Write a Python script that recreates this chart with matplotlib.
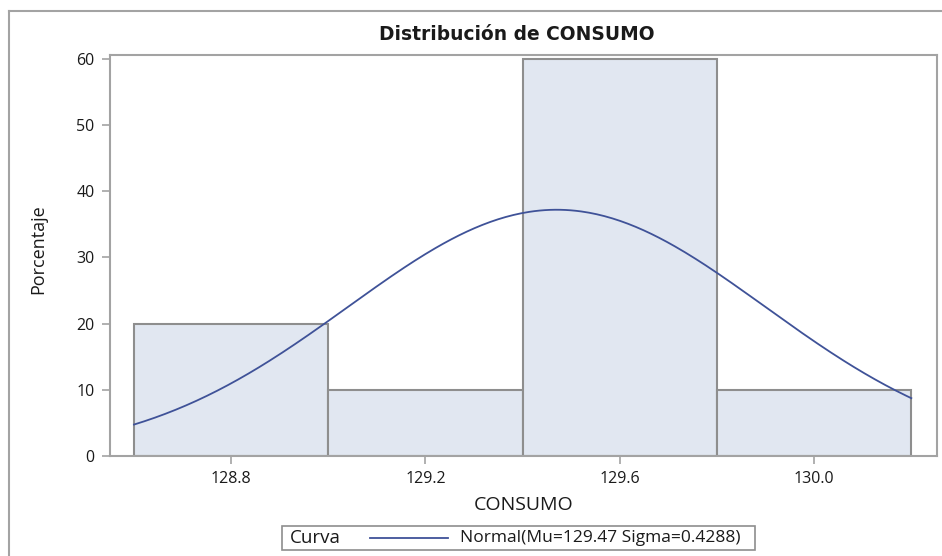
import matplotlib
matplotlib.use("Agg")
import matplotlib.pyplot as plt
from matplotlib.patches import Rectangle
from matplotlib.lines import Line2D
import numpy as np

# histogram bins (CONSUMO) and percentages
bin_edges = [128.6, 129.0, 129.4, 129.8, 130.2]
percent = [20, 10, 60, 10]
x_ticks = [128.8, 129.2, 129.6, 130.0]
y_ticks = [0, 10, 20, 30, 40, 50, 60]

# fitted normal curve parameters
mu = 129.47
sigma = 0.4288

title = "Distribución de CONSUMO"
xlabel = "CONSUMO"
ylabel = "Porcentaje"
legend_title = "Curva"
legend_label = "Normal(Mu=129.47 Sigma=0.4288)"

bar_fill = "#E1E7F1"
bar_edge = "#8E8E8E"
curve_col = "#3F5298"
frame_col = "#A3A3A3"
text_col = "#1A1A1A"

main_font = ["Open Sans", "DejaVu Sans"]
title_font = ["DejaVu Sans"]

W, H = 942, 556
fig = plt.figure(figsize=(W / 100, H / 100), dpi=100)
ax = fig.add_axes([110 / W, 1 - 456 / H, (937 - 110) / W, (456 - 55) / H])

# outer border (top and left visible only)
fig.add_artist(Line2D([9 / W, 1.0], [1 - 11 / H, 1 - 11 / H],
                      transform=fig.transFigure, color=frame_col, lw=1.5))
fig.add_artist(Line2D([9 / W, 9 / W], [0.0, 1 - 11 / H],
                      transform=fig.transFigure, color=frame_col, lw=1.5))

widths = np.diff(bin_edges)
ax.bar(bin_edges[:-1], percent, width=widths, align="edge",
       color=bar_fill, edgecolor=bar_edge, linewidth=1.5, zorder=2)

# normal density scaled to percent per bin
xs = np.linspace(bin_edges[0], bin_edges[-1], 300)
scale = 100 * widths[0]
ys = scale * np.exp(-0.5 * ((xs - mu) / sigma) ** 2) / (sigma * np.sqrt(2 * np.pi))
ax.plot(xs, ys, color=curve_col, lw=1.3, zorder=3)

ax.set_xlim(128.5506, 130.2529)
ax.set_ylim(0, 60.6)
ax.set_xticks(x_ticks)
ax.set_xticklabels([f"{t:.1f}" for t in x_ticks])
ax.set_yticks(y_ticks)

for sp in ax.spines.values():
    sp.set_color(frame_col)
    sp.set_linewidth(1.5)
ax.tick_params(direction="out", length=6, width=1.2, color=frame_col,
               labelcolor=text_col, labelsize=11.5, pad=5)
for lab in ax.get_xticklabels() + ax.get_yticklabels():
    lab.set_family(main_font)

ax.set_xlabel(xlabel, family=main_font, fontsize=14, color=text_col, labelpad=6)
ax.set_ylabel(ylabel, family=main_font, fontsize=13, color=text_col)
ax.yaxis.set_label_coords(-0.076, 0.516)

fig.text(517 / W, 1 - 34 / H, title, ha="center", va="center",
         family=title_font, fontweight="bold", fontsize=13.4, color=text_col)

# legend box
lx0, lx1, ly0, ly1 = 282, 755, 526, 550
fig.add_artist(Rectangle((lx0 / W, 1 - ly1 / H), (lx1 - lx0) / W,
                         (ly1 - ly0) / H, transform=fig.transFigure,
                         facecolor="white", edgecolor="#8E8E8E", lw=1.2))
ly = 1 - (ly0 + ly1) / 2 / H
fig.text(290 / W, ly, legend_title, ha="left", va="center",
         family=main_font, fontsize=13.5, color=text_col)
fig.add_artist(Line2D([370 / W, 448 / W], [ly, ly], transform=fig.transFigure,
                      color=curve_col, lw=1.3))
fig.text(460 / W, ly, legend_label, ha="left", va="center",
         family=main_font, fontsize=12.5, color=text_col)

fig.savefig("out.png", dpi=100)
